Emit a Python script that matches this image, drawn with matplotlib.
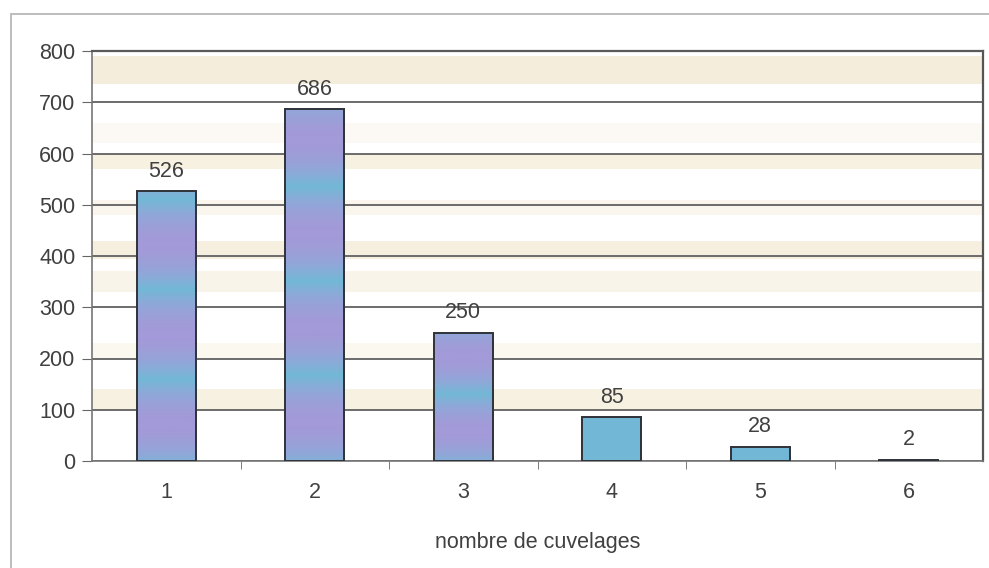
import matplotlib
matplotlib.use("Agg")
import matplotlib.pyplot as plt
import numpy as np
from matplotlib.colors import LinearSegmentedColormap
from matplotlib.patches import Rectangle

categories = ["1", "2", "3", "4", "5", "6"]
values = [526, 686, 250, 85, 28, 2]
yticks = [0, 100, 200, 300, 400, 500, 600, 700, 800]
xlabel = "nombre de cuvelages"

plt.rcParams['font.family'] = ['Liberation Sans', 'DejaVu Sans']
FS = 15.5
TXT = '#404040'

fig = plt.figure(figsize=(9.89, 5.68), dpi=100)
fig.patch.set_facecolor('white')
ax = fig.add_axes([92/989, 1-461/568, (983-92)/989, (461-51)/568])

x = np.arange(len(categories))
width = 0.4
bars = ax.bar(x, values, width=width, color='none', edgecolor='#2f3238', linewidth=1.4, zorder=4)

# gradient fill (purple / cyan bands) clipped to each bar
cmap = LinearSegmentedColormap.from_list('pc', ['#a39ad9', '#8fa8d8', '#72b8d6', '#8fa8d8', '#a39ad9'])
for b in bars:
    h = b.get_height()
    grad = np.linspace(0, 1, 256).reshape(-1, 1)
    if h < 150:
        grad = np.full_like(grad, 0.5)
    else:
        grad = (np.sin(grad * (0.6 + h / 220.0) * np.pi + 0.3) + 1) / 2
    im = ax.imshow(grad, aspect='auto', cmap=cmap, origin='lower', vmin=0, vmax=1,
                   extent=(b.get_x(), b.get_x() + b.get_width(), 0, max(h, 1e-6)), zorder=3)
    im.set_clip_path(b)

for xi, v in zip(x, values):
    ax.annotate(str(v), (xi, v), xytext=(0, 7), textcoords='offset points',
                ha='center', va='bottom', fontsize=FS, color=TXT, zorder=5)

# beige smudges in the scanned background
smudges = [(735, 790, 0.5), (570, 600, 0.4), (395, 430, 0.45), (330, 370, 0.3),
           (480, 510, 0.25), (100, 140, 0.4), (200, 230, 0.2), (620, 660, 0.15)]
for lo, hi, a in smudges:
    ax.axhspan(lo, hi, color='#ecdcb8', alpha=a, lw=0, zorder=0)

ax.set_xlim(-0.5, len(categories) - 0.5)
ax.set_ylim(0, 800)
ax.set_yticks(yticks)
ax.set_yticklabels([str(t) for t in yticks])
ax.set_xticks(x)
ax.set_xticklabels(categories)
ax.set_xticks(np.arange(0.5, len(categories) - 0.5, 1), minor=True)
ax.tick_params(axis='x', which='major', length=0, pad=15, labelsize=FS, labelcolor=TXT)
ax.tick_params(axis='x', which='minor', length=6, color='#666666', direction='out')
ax.tick_params(axis='y', length=7, color='#666666', labelsize=FS, labelcolor=TXT, pad=5)

ax.grid(axis='y', color='#6b6b6b', linewidth=1.4, zorder=1)
ax.set_axisbelow(True)
for s in ['left', 'bottom']:
    ax.spines[s].set_color('#777777')
    ax.spines[s].set_linewidth(1.2)
ax.spines['top'].set_color('#5a5a5a')
ax.spines['top'].set_linewidth(1.6)
ax.spines['right'].set_color('#555555')
ax.spines['right'].set_linewidth(1.6)
ax.set_facecolor('white')

ax.set_xlabel(xlabel, fontsize=FS, color=TXT, labelpad=21)

# outer chart frame
fig.add_artist(Rectangle((11/989, -0.05), 1.0, 1 - 14/568 + 0.05, transform=fig.transFigure,
                         fill=False, edgecolor='#bdbdbd', linewidth=1.4))

fig.savefig('out.png', dpi=100)
